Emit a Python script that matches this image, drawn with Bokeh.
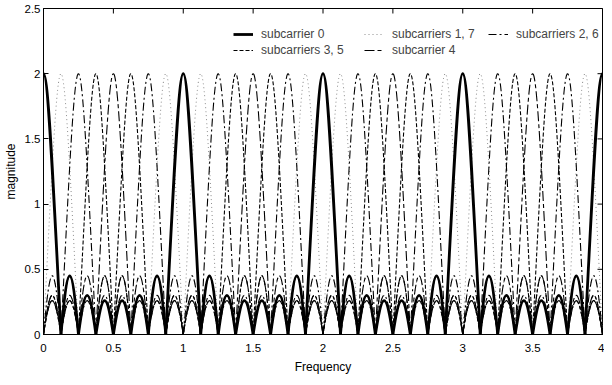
import math
from bokeh.plotting import figure
from bokeh.models import (Legend, LegendItem, FixedTicker, ColumnDataSource,
                          Range1d)
from bokeh.embed import file_html
from bokeh.resources import INLINE

# ---- values ----
freq_range = [0, 4]
mag_range = [0, 2.5]
null_spacing = 0.125                 # nulls every 1/8 in frequency
main_peak = 2.0                      # main lobe height
sidelobe_heights = [0.45, 0.30, 0.26, 0.26, 0.30, 0.45]
periods = [-1, 0, 1, 2, 3, 4]
group_names = ["subcarrier 0", "subcarriers 1, 7", "subcarriers 2, 6",
               "subcarriers 3, 5", "subcarrier 4"]
group_members = [[0], [1, 7], [2, 6], [3, 5], [4]]
x_ticks = [0, 0.5, 1, 1.5, 2, 2.5, 3, 3.5, 4]
x_tick_labels = ["0", "0.5", "1", "1.5", "2", "2.5", "3", "3.5", "4"]
y_ticks = [0, 0.5, 1, 1.5, 2, 2.5]
y_tick_labels = ["0", "0.5", "1", "1.5", "2", "2.5"]

# ---- styles ----
styles = [
    dict(line_color="black", line_width=2.8, line_dash="solid"),
    dict(line_color="#8c8c8c", line_width=1.0, line_dash="1 3"),
    dict(line_color="black", line_width=1.1, line_dash="8 3 2 3"),
    dict(line_color="black", line_width=1.1, line_dash="4 2"),
    dict(line_color="black", line_width=1.1, line_dash="10 3 4 3"),
]
FONT = "Liberation Sans"
FW, FH = 559, 326

p = figure(frame_width=FW, frame_height=FH, output_backend="svg",
           toolbar_location=None,
           x_range=Range1d(*freq_range), y_range=Range1d(*mag_range),
           min_border_left=0, min_border_right=2, min_border_top=8,
           min_border_bottom=0)
p.xgrid.visible = False
p.ygrid.visible = False
p.outline_line_color = "black"
p.outline_line_alpha = 1.0
p.background_fill_color = "white"


def lobes(members):
    d = dict(x0=[], y0=[], x1=[], y1=[], cx0=[], cy0=[], cx1=[], cy1=[])
    dz = null_spacing
    for k in members:
        for per in periods:
            c = per + k * dz
            segs = [(c - dz, c + dz, main_peak, 0.5)]
            for i, h in enumerate(sidelobe_heights):
                s = c + (i + 1) * dz
                segs.append((s, s + dz, h, 0.4))
            for a, b, h, sh in segs:
                if b < freq_range[0] - 1e-9 or a > freq_range[1] + 1e-9:
                    continue
                w = b - a
                d["x0"].append(a); d["y0"].append(0.0)
                d["x1"].append(b); d["y1"].append(0.0)
                d["cx0"].append(a + sh * w); d["cy0"].append(4.0 / 3.0 * h)
                d["cx1"].append(b - sh * w); d["cy1"].append(4.0 / 3.0 * h)
    return ColumnDataSource(d)


renderers = {}
for gi in [1, 2, 3, 4, 0]:
    renderers[gi] = p.bezier(x0="x0", y0="y0", x1="x1", y1="y1",
                             cx0="cx0", cy0="cy0", cx1="cx1", cy1="cy1",
                             source=lobes(group_members[gi]), **styles[gi])

# box ticks on top and right (MATLAB style), clipped half by the frame
p.scatter(x=x_ticks, y=[mag_range[1]] * len(x_ticks), marker="dash",
          angle=math.pi / 2, size=10, line_color="black", line_width=1)
p.scatter(x=[freq_range[1]] * len(y_ticks), y=y_ticks, marker="dash",
          size=10, line_color="black", line_width=1)

# legend: three columns, two rows
columns = [[0, 3], [1, 4], [2]]
col_x = [190, 321, 445]
col_bottom = [FH - 50, FH - 50, FH - 34]
for cols, cx, cb in zip(columns, col_x, col_bottom):
    items = [LegendItem(label=group_names[g], renderers=[renderers[g]])
             for g in cols]
    lg = Legend(items=items, orientation="vertical",
                location=(cx, cb), margin=0, padding=0, spacing=0,
                label_standoff=8, glyph_width=20, glyph_height=16,
                label_height=16, label_text_font=FONT,
                label_text_font_size="12px", border_line_alpha=0,
                background_fill_alpha=0)
    p.add_layout(lg, "center")

for ax, ticks, labels in ((p.xaxis[0], x_ticks, x_tick_labels),
                          (p.yaxis[0], y_ticks, y_tick_labels)):
    ax.ticker = FixedTicker(ticks=ticks)
    ax.major_label_overrides = {t: l for t, l in zip(ticks, labels)}
    ax.major_tick_in = 5
    ax.major_tick_out = 0
    ax.minor_tick_line_color = None
    ax.axis_line_color = "black"
    ax.major_tick_line_color = "black"
    ax.major_label_text_font = FONT
    ax.major_label_text_font_size = "11.5px"
    ax.major_label_text_color = "black"
    ax.axis_label_text_font = FONT
    ax.axis_label_text_font_size = "12px"
    ax.axis_label_text_font_style = "normal"
    ax.axis_label_text_color = "black"

p.xaxis[0].axis_label = "Frequency"
p.yaxis[0].axis_label = "magnitude"
p.xaxis[0].major_label_standoff = 9
p.xaxis[0].axis_label_standoff = 5
p.yaxis[0].major_label_standoff = 3
p.yaxis[0].axis_label_standoff = 4

open("out.html", "w").write(file_html(p, INLINE))
